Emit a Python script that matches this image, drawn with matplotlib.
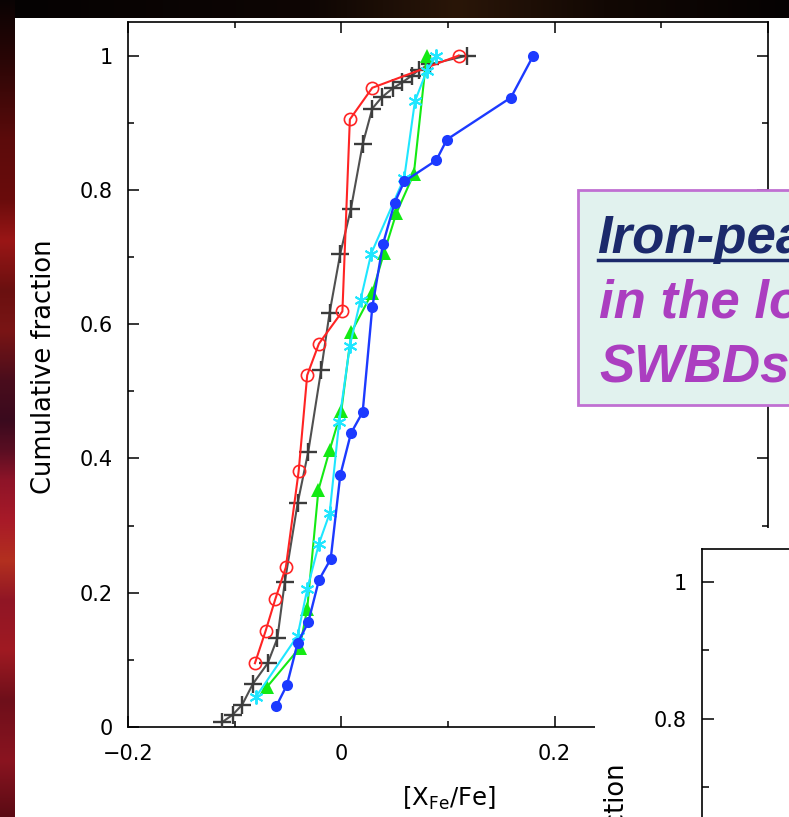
import matplotlib
matplotlib.use('Agg')
import matplotlib.pyplot as plt
from matplotlib import transforms as mtransforms
from matplotlib.patches import Rectangle
from matplotlib.lines import Line2D
from matplotlib.ticker import MultipleLocator
import numpy as np

# ---------------- data ----------------
red_x = [-0.081, -0.071, -0.062, -0.052, -0.040, -0.032, -0.021, 0.001, 0.008, 0.029, 0.110]
red_y = [0.095, 0.143, 0.190, 0.238, 0.381, 0.524, 0.571, 0.619, 0.905, 0.952, 1.000]

gray_x = [-0.112, -0.102, -0.093, -0.083, -0.069, -0.060, -0.053, -0.041, -0.031, -0.019,
          -0.011, -0.001, 0.009, 0.020, 0.029, 0.038, 0.048, 0.057, 0.066, 0.073, 0.083, 0.118]
gray_y = [0.007, 0.018, 0.033, 0.064, 0.095, 0.132, 0.216, 0.333, 0.410, 0.531,
          0.617, 0.705, 0.772, 0.868, 0.921, 0.938, 0.951, 0.960, 0.970, 0.979, 0.987, 1.000]

green_x = [-0.070, -0.039, -0.032, -0.0215, -0.011, 0.000, 0.0094, 0.029, 0.040, 0.0515, 0.068, 0.080]
green_y = [0.059, 0.118, 0.176, 0.353, 0.412, 0.471, 0.588, 0.647, 0.706, 0.765, 0.824, 1.000]

cyan_x = [-0.080, -0.041, -0.032, -0.021, -0.011, -0.002, 0.008, 0.018, 0.028, 0.059, 0.069, 0.080, 0.089]
cyan_y = [0.045, 0.136, 0.205, 0.273, 0.318, 0.455, 0.568, 0.636, 0.705, 0.818, 0.932, 0.977, 1.000]

blue_x = [-0.061, -0.051, -0.041, -0.031, -0.021, -0.010, -0.001, 0.009, 0.020, 0.029,
          0.039, 0.050, 0.059, 0.089, 0.099, 0.159, 0.180]
blue_y = [0.031, 0.0625, 0.125, 0.156, 0.219, 0.250, 0.375, 0.4375, 0.469, 0.625,
          0.719, 0.781, 0.8125, 0.844, 0.875, 0.9375, 1.000]

xticks = [-0.2, 0.0, 0.2, 0.4]
xtick_labels = ['\u22120.2', '0', '0.2', '0.4']
yticks = [0.0, 0.2, 0.4, 0.6, 0.8, 1.0]
ytick_labels = ['0', '0.2', '0.4', '0.6', '0.8', '1']

box_lines = ['Iron-peak', 'in the local', 'SWBDs']

# ---------------- figure ----------------
W, H = 789, 817
fig = plt.figure(figsize=(W / 100, H / 100), dpi=100)
fig.patch.set_facecolor('#0b0504')
PX = mtransforms.Affine2D().scale(1 / W, -1 / H).translate(0, 1) + fig.transFigure

FONT = 'DejaVu Sans'
plt.rcParams['font.family'] = [FONT]

# background (slide)
bg = fig.add_axes([0, 0, 1, 1], zorder=0)
bg.set_xlim(0, W); bg.set_ylim(H, 0); bg.axis('off')
stops_y = [0, 60, 140, 200, 240, 290, 330, 380, 420, 450, 480, 520, 560, 600, 650, 700, 760, 817]
stops_c = ['#0a0303', '#2a0606', '#5c0b0b', '#6a0c0c', '#9a1616', '#6a1010', '#7a1515', '#4a0d1c',
           '#3a0a1e', '#5a0e22', '#8e1428', '#a81a28', '#b3301f', '#901525', '#a01a22', '#6e0f1a',
           '#8a1420', '#5a0b14']
rgb = np.array([matplotlib.colors.to_rgb(c) for c in stops_c])
yy = np.arange(H)
strip = np.stack([np.interp(yy, stops_y, rgb[:, k]) for k in range(3)], axis=-1)[:, None, :]
bg.imshow(strip, extent=[0, 15, H, 0], aspect='auto', interpolation='bilinear')
tx = [0, 300, 450, 600, 789]
tc = ['#050202', '#0e0604', '#2a1608', '#120804', '#050202']
trgb = np.array([matplotlib.colors.to_rgb(c) for c in tc])
xx = np.arange(W)
tstrip = np.stack([np.interp(xx, tx, trgb[:, k]) for k in range(3)], axis=-1)[None, :, :]
bg.imshow(tstrip, extent=[15, W, 18, 0], aspect='auto', interpolation='bilinear')
bg.add_patch(Rectangle((15, 18), W, H, facecolor='white', edgecolor='none'))

# ---------------- main chart ----------------
ax = fig.add_axes([128 / W, 1 - 727 / H, 640 / W, (727 - 22) / H], zorder=1)
ax.plot(gray_x, gray_y, color='#505050', lw=1.5, marker='+', ms=13, mew=1.7, mec='#3c3c3c', zorder=3)
ax.plot(red_x, red_y, color='#ff2424', lw=1.5, marker='o', ms=8.8, mfc='none', mew=1.2, zorder=4)
ax.plot(green_x, green_y, color='#14ea14', lw=1.5, marker='^', ms=10.5, mew=0, zorder=5)
ax.plot(cyan_x, cyan_y, color='#1fe6ff', lw=1.5, marker=(6, 2, 0), ms=10, mew=1.4, zorder=6)
ax.plot(blue_x, blue_y, color='#1c3aff', lw=1.7, marker='o', ms=8, mew=0, zorder=7)

ax.set_xlim(-0.2, 0.4)
ax.set_ylim(0, 1.05)
ax.set_xticks(xticks)
ax.set_xticklabels(xtick_labels)
ax.set_yticks(yticks)
ax.set_yticklabels(ytick_labels)
ax.xaxis.set_minor_locator(MultipleLocator(0.1))
ax.yaxis.set_minor_locator(MultipleLocator(0.1))
ax.tick_params(which='both', direction='in', top=True, right=True, width=1.1, labelsize=15)
ax.tick_params(which='major', length=8)
ax.tick_params(which='minor', length=4)
ax.tick_params(axis='x', pad=12)
ax.tick_params(axis='y', pad=11)
for s in ax.spines.values():
    s.set_linewidth(1.2)
ax.set_xlabel(r'[X$_{\mathrm{Fe}}$/Fe]', fontsize=17.5)
ax.xaxis.set_label_coords(449, 785, transform=PX)
ax.set_ylabel('Cumulative fraction', fontsize=18.5)
ax.yaxis.set_label_coords(57, 367, transform=PX)

# ---------------- overlay: text box and second panel ----------------
ov = fig.add_axes([0, 0, 1, 1], zorder=2)
ov.set_xlim(0, W); ov.set_ylim(H, 0); ov.axis('off')
ov.patch.set_alpha(0)
ov.add_patch(Rectangle((578, 190), 260, 215, facecolor='#e1f2ee', edgecolor='#c070d2', lw=2))
ov.text(597, 253, box_lines[0], fontsize=38, fontweight='bold', style='italic',
        family='Liberation Sans', color='#1b2a6b', ha='left', va='baseline')
ov.add_line(Line2D([598, 800], [260, 260], color='#1b2a6b', lw=2.5))
ov.text(599, 317, box_lines[1], fontsize=38, fontweight='bold', style='italic',
        family='Liberation Sans', color='#ab3ec0', ha='left', va='baseline')
ov.text(599, 382, box_lines[2], fontsize=38, fontweight='bold', style='italic',
        family='Liberation Sans', color='#ab3ec0', ha='left', va='baseline')
ov.add_patch(Rectangle((595, 528), 300, 300, facecolor='white', edgecolor='none'))

# second (partially visible) chart
ax2 = fig.add_axes([702 / W, 1 - 1267 / H, 400 / W, (1267 - 549) / H], zorder=3)
ax2.set_ylim(0, 1.048)
ax2.set_xlim(0, 1)
ax2.set_xticks([])
ax2.set_yticks(yticks)
ax2.set_yticklabels(ytick_labels)
ax2.yaxis.set_minor_locator(MultipleLocator(0.1))
ax2.tick_params(which='both', direction='in', width=1.1, labelsize=15, pad=11)
ax2.tick_params(which='major', length=8.6)
ax2.tick_params(which='minor', length=5)
for s in ax2.spines.values():
    s.set_linewidth(1.2)
ax2.set_ylabel('Cumulative fraction', fontsize=18.5, ha='right')
ax2.yaxis.set_label_coords(630, 763, transform=PX)

fig.savefig('out.png', dpi=100, facecolor=fig.get_facecolor())
